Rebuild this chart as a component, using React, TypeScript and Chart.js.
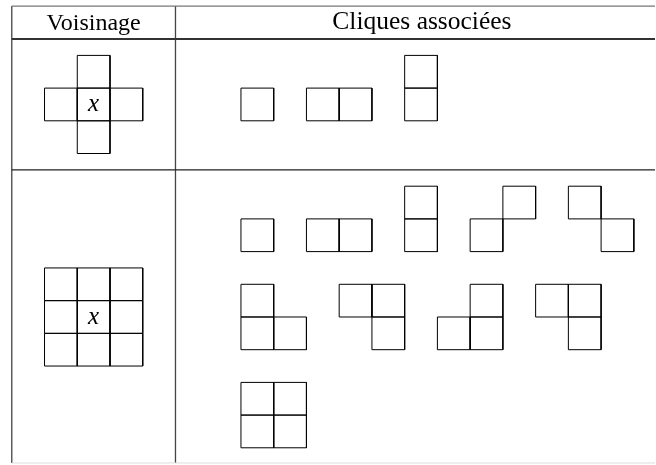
import React, { useEffect, useRef } from "react";
import { Chart, registerables } from "chart.js";

Chart.register(...registerables);

// ---- Data (cell coordinates, in grid units, local to each shape) ----
const HEADER_LABELS = ["Voisinage", "Cliques associées"];
const CENTER_LABEL = "x";

// 4-neighbourhood (cross) and 8-neighbourhood (3x3)
const NEIGHBOURHOOD_4: number[][] = [[1, 0], [0, 1], [1, 1], [2, 1], [1, 2]];
const NEIGHBOURHOOD_8: number[][] = [
  [0, 0], [1, 0], [2, 0],
  [0, 1], [1, 1], [2, 1],
  [0, 2], [1, 2], [2, 2],
];

// Cliques of the 4-neighbourhood
const CLIQUES_4: number[][][] = [
  [[0, 0]],
  [[0, 0], [1, 0]],
  [[0, 0], [0, 1]],
];

// Cliques of the 8-neighbourhood (as drawn in the reference)
const CLIQUES_8: number[][][] = [
  [[0, 0]],
  [[0, 0], [1, 0]],
  [[0, 0], [0, 1]],
  [[1, 0], [0, 1]],
  [[0, 0], [1, 1]],
  [[0, 0], [0, 1], [1, 1]],
  [[0, 0], [1, 0], [1, 1]],
  [[1, 0], [0, 1], [1, 1]],
  [[0, 0], [1, 0], [1, 1]],
  [[0, 0], [1, 0], [0, 1], [1, 1]],
];

// ---- Layout (grid units) ----
const UNIT = 32.84;
const ORIGIN_X = 240.7;
const ORIGIN_Y = 186;
const W = 656;
const H = 465;

const NB4_AT = [-6, -4];
const NB8_AT = [-6, 2.5];
// cliques: [column, bottom row]
const CLIQUES_4_SLOTS = [[0, -2], [2, -2], [5, -2]];
const CLIQUES_8_SLOTS = [
  [0, 2], [2, 2], [5, 2], [7, 2], [10, 2],
  [0, 5], [3, 5], [6, 5], [9, 5],
  [0, 8],
];

const TABLE_LEFT = -7;
const COL_SPLIT = -2;
const ROW_TOP = -5.51;
const ROW_HEAD = -4.5;
const ROW_MID = -0.5;
const ROW_BOTTOM = 8.465;

const XMIN = -ORIGIN_X / UNIT;
const XMAX = (W - ORIGIN_X) / UNIT;
const YMIN = -ORIGIN_Y / UNIT;
const YMAX = (H - ORIGIN_Y) / UNIT;

const SERIF = "\"Liberation Serif\", \"Times New Roman\", serif";

function squareDataset(x: number, y: number) {
  return {
    data: [
      { x, y },
      { x: x + 1, y },
      { x: x + 1, y: y + 1 },
      { x, y: y + 1 },
      { x, y },
    ],
    showLine: true,
    borderColor: "#000",
    borderWidth: 1,
    pointRadius: 0,
    fill: false,
    tension: 0,
  };
}

function shapeDatasets(cells: number[][], ox: number, oy: number) {
  return cells.map(([cx, cy]) => squareDataset(ox + cx, oy + cy));
}

function ruleDataset(x1: number, y1: number, x2: number, y2: number, color: string, width: number) {
  return {
    data: [{ x: x1, y: y1 }, { x: x2, y: y2 }],
    showLine: true,
    borderColor: color,
    borderWidth: width,
    pointRadius: 0,
    fill: false,
  };
}

export default function App() {
  const ref = useRef<HTMLCanvasElement | null>(null);

  useEffect(() => {
    if (!ref.current) return;
    const datasets: any[] = [];
    // table rules
    datasets.push(ruleDataset(TABLE_LEFT, ROW_TOP, XMAX, ROW_TOP, "#777", 1.2));
    datasets.push(ruleDataset(TABLE_LEFT, ROW_HEAD, XMAX, ROW_HEAD, "#333", 2));
    datasets.push(ruleDataset(TABLE_LEFT, ROW_MID, XMAX, ROW_MID, "#222", 1.3));
    datasets.push(ruleDataset(TABLE_LEFT, ROW_BOTTOM, XMAX, ROW_BOTTOM, "#ddd", 1));
    datasets.push(ruleDataset(TABLE_LEFT, ROW_TOP, TABLE_LEFT, ROW_BOTTOM, "#444", 1.3));
    datasets.push(ruleDataset(COL_SPLIT, ROW_TOP, COL_SPLIT, ROW_BOTTOM, "#444", 1.3));

    // neighbourhoods
    datasets.push(...shapeDatasets(NEIGHBOURHOOD_4, NB4_AT[0], NB4_AT[1]));
    datasets.push(...shapeDatasets(NEIGHBOURHOOD_8, NB8_AT[0], NB8_AT[1]));

    // cliques
    CLIQUES_4.forEach((cells, i) => {
      const h = Math.max(...cells.map((c) => c[1])) + 1;
      const [col, bottom] = CLIQUES_4_SLOTS[i];
      datasets.push(...shapeDatasets(cells, col, bottom - h));
    });
    CLIQUES_8.forEach((cells, i) => {
      const h = Math.max(...cells.map((c) => c[1])) + 1;
      const [col, bottom] = CLIQUES_8_SLOTS[i];
      datasets.push(...shapeDatasets(cells, col, bottom - h));
    });

    const textPlugin = {
      id: "tableText",
      afterDatasetsDraw(chart: any) {
        const { ctx, scales } = chart;
        const xs = scales.x;
        const ys = scales.y;
        ctx.save();
        ctx.fillStyle = "#000";
        ctx.textBaseline = "alphabetic";
        ctx.textAlign = "center";
        ctx.font = "24px " + SERIF;
        ctx.fillText(HEADER_LABELS[0], xs.getPixelForValue((TABLE_LEFT + COL_SPLIT) / 2), ys.getPixelForValue(-4.78));
        ctx.font = "25.5px " + SERIF;
        ctx.fillText(HEADER_LABELS[1], xs.getPixelForValue(5.527), ys.getPixelForValue(-4.8));
        ctx.font = "italic 25px " + SERIF;
        ctx.fillText(CENTER_LABEL, xs.getPixelForValue(NB4_AT[0] + 1.5), ys.getPixelForValue(NB4_AT[1] + 1.7));
        ctx.fillText(CENTER_LABEL, xs.getPixelForValue(NB8_AT[0] + 1.5), ys.getPixelForValue(NB8_AT[1] + 1.72));
        ctx.restore();
      },
    };

    const chart = new Chart(ref.current, {
      type: "scatter",
      data: { datasets },
      options: {
        animation: false,
        responsive: false,
        devicePixelRatio: 1,
        events: [],
        layout: { padding: 0 },
        plugins: { legend: { display: false }, tooltip: { enabled: false }, title: { display: false } },
        elements: { line: { tension: 0 } },
        datasets: { scatter: { clip: false } as any },
        scales: {
          x: { type: "linear", min: XMIN, max: XMAX, display: false },
          y: { type: "linear", min: YMIN, max: YMAX, reverse: true, display: false },
        },
      } as any,
      plugins: [textPlugin],
    });
    let alive = true;
    if ((document as any).fonts && (document as any).fonts.load) {
      Promise.all([
        (document as any).fonts.load("24px " + SERIF),
        (document as any).fonts.load("italic 24px " + SERIF),
      ]).then(() => { if (alive) chart.update(); }).catch(() => {});
    }
    return () => { alive = false; chart.destroy(); };
  }, []);

  return (
    <div style={{ position: "fixed", left: 0, top: 0, width: W, height: H, background: "#fff" }}>
      <canvas ref={ref} width={W} height={H} style={{ display: "block" }} />
    </div>
  );
}
